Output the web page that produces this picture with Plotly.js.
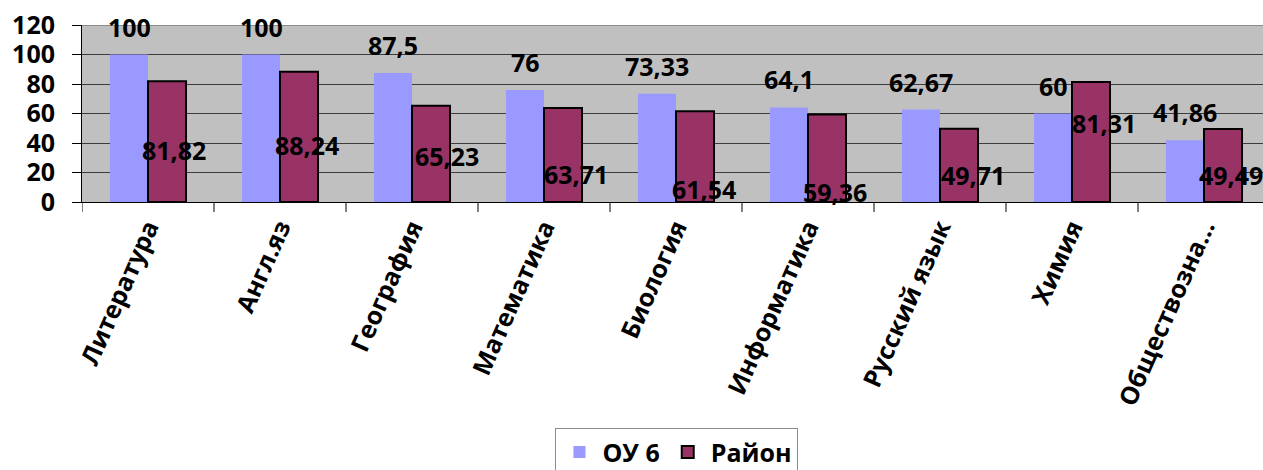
<!DOCTYPE html>
<html>
<head>
<meta charset="utf-8">
<script src="https://cdn.plot.ly/plotly-3.0.1.min.js"></script>
<style>
  html, body { margin: 0; padding: 0; background: #ffffff; }
  #chart { width: 1263px; height: 470px; }
</style>
</head>
<body>
<div id="chart"></div>
<script>
// ---- data ----
var categories = ['Литература', 'Англ.яз', 'География', 'Математика', 'Биология', 'Информатика', 'Русский язык', 'Химия', 'Обществозна...'];
var ou6Values = [100, 100, 87.5, 76, 73.33, 64.1, 62.67, 60, 41.86];
var rayonValues = [81.82, 88.24, 65.23, 63.71, 61.54, 59.36, 49.71, 81.31, 49.49];
var seriesNames = ['ОУ 6', 'Район'];
var yTicks = [0, 20, 40, 60, 80, 100, 120];

// ---- label placement (styling, separate from data) ----
var rayonLabelY = [35.5, 38.9, 31.0, 19.3, 9.1, 7.1, 18.6, 53.8, 18.6];
var rayonLabelDx = [7, 8, 16, 13, 9, 8, 14, 13, 8];

var FONT = 'Open Sans, Liberation Sans, sans-serif';
function fmt(v) { return String(v).replace('.', ','); }
var idx = categories.map(function (_, i) { return i; });

var traces = [
  {
    type: 'bar', name: seriesNames[0], x: idx, y: ou6Values,
    marker: { color: '#9999FF', line: { width: 0 } },
    hoverinfo: 'none'
  },
  {
    type: 'bar', name: seriesNames[1], x: idx, y: rayonValues,
    marker: { color: '#993366', line: { color: '#000000', width: 2 } },
    hoverinfo: 'none'
  }
];

var annotations = [];
ou6Values.forEach(function (v, i) {
  annotations.push({
    x: i, y: v, xref: 'x', yref: 'y', text: '<b>' + fmt(v) + '</b>',
    showarrow: false, xshift: -19, yshift: 28, xanchor: 'center', yanchor: 'middle',
    font: { family: FONT, size: 25, color: '#000000' }
  });
});
rayonValues.forEach(function (v, i) {
  annotations.push({
    x: i, y: rayonLabelY[i], xref: 'x', yref: 'y', text: '<b>' + fmt(v) + '</b>',
    showarrow: false, xshift: 19 + rayonLabelDx[i], xanchor: 'center', yanchor: 'middle',
    font: { family: FONT, size: 25, color: '#000000' }
  });
});

var layout = {
  width: 1263, height: 470,
  margin: { l: 82, r: 0, t: 25, b: 267.5, pad: 0 },
  paper_bgcolor: '#ffffff',
  plot_bgcolor: '#C0C0C0',
  barmode: 'group',
  bargap: 0.424,
  bargroupgap: 0,
  showlegend: true,
  font: { family: FONT, size: 25, color: '#000000' },
  xaxis: {
    type: 'linear',
    range: [-0.5, 8.447],
    tickmode: 'array',
    tickvals: idx,
    ticktext: categories.map(function (c) { return '<b>' + c + '</b>'; }),
    tickangle: -66,
    ticks: '',
    showline: true, linecolor: '#000000', linewidth: 1,
    showgrid: false, zeroline: false,
    tickfont: { family: FONT, size: 25, color: '#000000' },
    fixedrange: true
  },
  yaxis: {
    range: [0, 120],
    tickmode: 'array',
    tickvals: yTicks,
    ticktext: yTicks.map(function (t) { return '<b>' + t + '</b>'; }),
    ticks: 'outside', ticklen: 9, tickcolor: '#000000', tickwidth: 1,
    ticklabelstandoff: 12,
    showline: true, linecolor: '#000000', linewidth: 1,
    showgrid: true, gridcolor: '#3c3c3c', gridwidth: 1,
    zeroline: false,
    tickfont: { family: FONT, size: 25, color: '#000000' },
    fixedrange: true
  },
  shapes: [
    { type: 'line', xref: 'paper', yref: 'y', x0: 0, x1: 1, y0: 120, y1: 120,
      line: { color: '#8c8c8c', width: 2 }, layer: 'above' }
  ].concat(idx.concat([idx.length]).map(function (i) {
    return { type: 'line', xref: 'x', yref: 'paper', x0: i - 0.5, x1: i - 0.5,
      y0: 0, y1: -0.057, line: { color: '#000000', width: 1 }, layer: 'above' };
  })),
  annotations: annotations,
  legend: {
    orientation: 'h',
    xref: 'container', yref: 'container',
    x: 0.536, xanchor: 'center',
    y: 0.089, yanchor: 'top',
    bgcolor: '#ffffff',
    bordercolor: '#8c8c8c', borderwidth: 1,
    font: { family: FONT, size: 25, color: '#000000', weight: 'bold' },
    itemsizing: 'constant',
    itemwidth: 36,
    traceorder: 'normal'
  }
};

Plotly.newPlot('chart', traces, layout, { displayModeBar: false, staticPlot: true });
</script>
</body>
</html>
